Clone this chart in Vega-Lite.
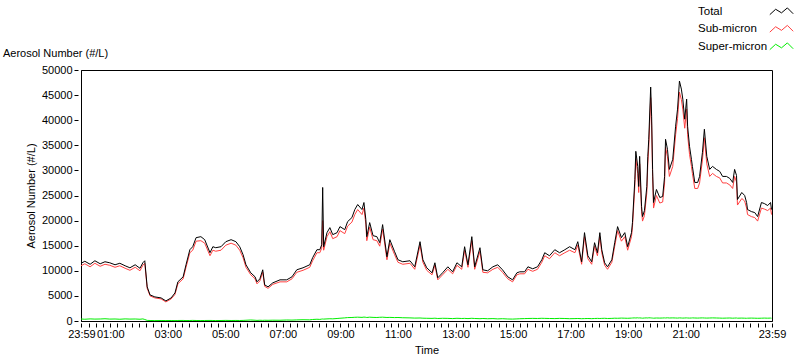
{
"$schema":"https://vega.github.io/schema/vega-lite/v6.json",
"width":691,"height":251,
"autosize":{"type":"none"},
"padding":{"left":81,"top":70,"right":28,"bottom":40},
"background":"white",
"title":{"text":"Aerosol Number (#/L)","anchor":"start","frame":"group","dx":-78,"dy":71,"offset":14,"fontSize":11,"fontWeight":"normal","font":"Liberation Sans","color":"#000"},
"config":{
 "view":{"stroke":"#000","strokeWidth":1},
 "axis":{"labelFont":"Liberation Sans","labelFontSize":11,"labelColor":"#000","titleFont":"Liberation Sans","titleFontSize":11,"titleFontWeight":"normal","titleColor":"#000","grid":false,"domainColor":"#000","tickColor":"#000"},
 "line":{"strokeWidth":1}
},
"data":{"values":[
{"t":"2010-01-01T23:59","Total":11500,"Sub":11000,"Super":400},
{"t":"2010-01-02T00:07","Total":11900,"Sub":11400,"Super":350},
{"t":"2010-01-02T00:18","Total":11300,"Sub":10800,"Super":420},
{"t":"2010-01-02T00:28","Total":12000,"Sub":11500,"Super":380},
{"t":"2010-01-02T00:39","Total":11400,"Sub":10900,"Super":400},
{"t":"2010-01-02T00:49","Total":11800,"Sub":11300,"Super":450},
{"t":"2010-01-02T00:59","Total":11600,"Sub":11100,"Super":380},
{"t":"2010-01-02T01:10","Total":11200,"Sub":10700,"Super":400},
{"t":"2010-01-02T01:20","Total":11500,"Sub":11000,"Super":350},
{"t":"2010-01-02T01:31","Total":11000,"Sub":10500,"Super":420},
{"t":"2010-01-02T01:41","Total":10600,"Sub":10100,"Super":380},
{"t":"2010-01-02T01:52","Total":11200,"Sub":10700,"Super":400},
{"t":"2010-01-02T02:02","Total":10500,"Sub":10000,"Super":350},
{"t":"2010-01-02T02:08","Total":11600,"Sub":11100,"Super":420},
{"t":"2010-01-02T02:12","Total":12000,"Sub":11500,"Super":300},
{"t":"2010-01-02T02:17","Total":6800,"Sub":6500,"Super":120},
{"t":"2010-01-02T02:23","Total":5200,"Sub":5000,"Super":100},
{"t":"2010-01-02T02:33","Total":4800,"Sub":4600,"Super":80},
{"t":"2010-01-02T02:46","Total":4600,"Sub":4400,"Super":100},
{"t":"2010-01-02T02:56","Total":4000,"Sub":3800,"Super":90},
{"t":"2010-01-02T03:07","Total":4600,"Sub":4400,"Super":100},
{"t":"2010-01-02T03:15","Total":5600,"Sub":5300,"Super":80},
{"t":"2010-01-02T03:21","Total":7800,"Sub":7400,"Super":100},
{"t":"2010-01-02T03:32","Total":8800,"Sub":8400,"Super":110},
{"t":"2010-01-02T03:38","Total":11200,"Sub":10700,"Super":90},
{"t":"2010-01-02T03:46","Total":14200,"Sub":13600,"Super":100},
{"t":"2010-01-02T03:52","Total":14800,"Sub":14100,"Super":120},
{"t":"2010-01-02T03:59","Total":16600,"Sub":15900,"Super":100},
{"t":"2010-01-02T04:09","Total":16800,"Sub":16000,"Super":90},
{"t":"2010-01-02T04:17","Total":16200,"Sub":15500,"Super":100},
{"t":"2010-01-02T04:28","Total":13600,"Sub":13000,"Super":110},
{"t":"2010-01-02T04:34","Total":14800,"Sub":14100,"Super":100},
{"t":"2010-01-02T04:40","Total":14600,"Sub":13900,"Super":90},
{"t":"2010-01-02T04:51","Total":14800,"Sub":14100,"Super":100},
{"t":"2010-01-02T05:01","Total":15800,"Sub":15100,"Super":120},
{"t":"2010-01-02T05:12","Total":16200,"Sub":15500,"Super":100},
{"t":"2010-01-02T05:22","Total":15800,"Sub":15100,"Super":110},
{"t":"2010-01-02T05:30","Total":14800,"Sub":14100,"Super":100},
{"t":"2010-01-02T05:37","Total":13200,"Sub":12600,"Super":120},
{"t":"2010-01-02T05:43","Total":11200,"Sub":10700,"Super":150},
{"t":"2010-01-02T05:53","Total":9600,"Sub":9200,"Super":200},
{"t":"2010-01-02T06:02","Total":8800,"Sub":8400,"Super":150},
{"t":"2010-01-02T06:06","Total":7800,"Sub":7400,"Super":120},
{"t":"2010-01-02T06:12","Total":8400,"Sub":8000,"Super":150},
{"t":"2010-01-02T06:18","Total":10200,"Sub":9700,"Super":130},
{"t":"2010-01-02T06:22","Total":7200,"Sub":6900,"Super":150},
{"t":"2010-01-02T06:29","Total":6800,"Sub":6500,"Super":140},
{"t":"2010-01-02T06:39","Total":7600,"Sub":7300,"Super":160},
{"t":"2010-01-02T06:54","Total":8200,"Sub":7800,"Super":150},
{"t":"2010-01-02T07:08","Total":8200,"Sub":7800,"Super":200},
{"t":"2010-01-02T07:19","Total":8800,"Sub":8400,"Super":180},
{"t":"2010-01-02T07:29","Total":10200,"Sub":9700,"Super":220},
{"t":"2010-01-02T07:42","Total":10600,"Sub":10100,"Super":250},
{"t":"2010-01-02T07:56","Total":11200,"Sub":10700,"Super":230},
{"t":"2010-01-02T08:02","Total":12600,"Sub":12000,"Super":300},
{"t":"2010-01-02T08:11","Total":14200,"Sub":13600,"Super":350},
{"t":"2010-01-02T08:17","Total":14200,"Sub":13600,"Super":320},
{"t":"2010-01-02T08:21","Total":15200,"Sub":14500,"Super":380},
{"t":"2010-01-02T08:23","Total":26600,"Sub":20000,"Super":400},
{"t":"2010-01-02T08:25","Total":14800,"Sub":14100,"Super":380},
{"t":"2010-01-02T08:32","Total":17600,"Sub":16800,"Super":420},
{"t":"2010-01-02T08:38","Total":18600,"Sub":17800,"Super":450},
{"t":"2010-01-02T08:44","Total":17200,"Sub":16400,"Super":430},
{"t":"2010-01-02T08:53","Total":17600,"Sub":16800,"Super":500},
{"t":"2010-01-02T08:59","Total":18800,"Sub":18000,"Super":550},
{"t":"2010-01-02T09:09","Total":18200,"Sub":17400,"Super":620},
{"t":"2010-01-02T09:15","Total":19800,"Sub":18900,"Super":680},
{"t":"2010-01-02T09:24","Total":20600,"Sub":19700,"Super":700},
{"t":"2010-01-02T09:30","Total":22200,"Sub":21200,"Super":740},
{"t":"2010-01-02T09:36","Total":23200,"Sub":22200,"Super":760},
{"t":"2010-01-02T09:45","Total":22200,"Sub":21200,"Super":720},
{"t":"2010-01-02T09:49","Total":23600,"Sub":22500,"Super":780},
{"t":"2010-01-02T09:53","Total":20200,"Sub":19300,"Super":740},
{"t":"2010-01-02T09:55","Total":16800,"Sub":16000,"Super":700},
{"t":"2010-01-02T10:01","Total":19600,"Sub":18700,"Super":760},
{"t":"2010-01-02T10:08","Total":17000,"Sub":16200,"Super":720},
{"t":"2010-01-02T10:16","Total":16800,"Sub":16000,"Super":700},
{"t":"2010-01-02T10:22","Total":15600,"Sub":14900,"Super":740},
{"t":"2010-01-02T10:28","Total":19200,"Sub":18300,"Super":760},
{"t":"2010-01-02T10:37","Total":12800,"Sub":12200,"Super":700},
{"t":"2010-01-02T10:43","Total":16200,"Sub":15500,"Super":720},
{"t":"2010-01-02T10:53","Total":13800,"Sub":13200,"Super":680},
{"t":"2010-01-02T11:00","Total":12200,"Sub":11700,"Super":700},
{"t":"2010-01-02T11:10","Total":11800,"Sub":11300,"Super":650},
{"t":"2010-01-02T11:25","Total":12000,"Sub":11500,"Super":620},
{"t":"2010-01-02T11:35","Total":10800,"Sub":10300,"Super":580},
{"t":"2010-01-02T11:46","Total":15800,"Sub":15100,"Super":600},
{"t":"2010-01-02T11:52","Total":12200,"Sub":11700,"Super":560},
{"t":"2010-01-02T12:00","Total":10600,"Sub":10100,"Super":540},
{"t":"2010-01-02T12:11","Total":9600,"Sub":9200,"Super":520},
{"t":"2010-01-02T12:17","Total":11600,"Sub":11100,"Super":560},
{"t":"2010-01-02T12:23","Total":8600,"Sub":8200,"Super":500},
{"t":"2010-01-02T12:33","Total":9600,"Sub":9200,"Super":540},
{"t":"2010-01-02T12:44","Total":10800,"Sub":10300,"Super":520},
{"t":"2010-01-02T12:54","Total":9800,"Sub":9400,"Super":480},
{"t":"2010-01-02T13:03","Total":11600,"Sub":11100,"Super":540},
{"t":"2010-01-02T13:13","Total":10800,"Sub":10300,"Super":500},
{"t":"2010-01-02T13:19","Total":14800,"Sub":14100,"Super":520},
{"t":"2010-01-02T13:26","Total":11200,"Sub":10700,"Super":480},
{"t":"2010-01-02T13:34","Total":16800,"Sub":16000,"Super":540},
{"t":"2010-01-02T13:40","Total":10800,"Sub":10300,"Super":500},
{"t":"2010-01-02T13:51","Total":14600,"Sub":13900,"Super":460},
{"t":"2010-01-02T13:57","Total":10200,"Sub":9700,"Super":500},
{"t":"2010-01-02T14:07","Total":10000,"Sub":9600,"Super":450},
{"t":"2010-01-02T14:18","Total":10800,"Sub":10300,"Super":480},
{"t":"2010-01-02T14:28","Total":11200,"Sub":10700,"Super":420},
{"t":"2010-01-02T14:38","Total":10200,"Sub":9700,"Super":460},
{"t":"2010-01-02T14:49","Total":8800,"Sub":8400,"Super":400},
{"t":"2010-01-02T14:59","Total":8200,"Sub":7800,"Super":380},
{"t":"2010-01-02T15:08","Total":9600,"Sub":9200,"Super":420},
{"t":"2010-01-02T15:14","Total":9800,"Sub":9400,"Super":450},
{"t":"2010-01-02T15:24","Total":9800,"Sub":9400,"Super":480},
{"t":"2010-01-02T15:31","Total":10800,"Sub":10300,"Super":500},
{"t":"2010-01-02T15:41","Total":10400,"Sub":9900,"Super":520},
{"t":"2010-01-02T15:51","Total":10800,"Sub":10300,"Super":500},
{"t":"2010-01-02T16:00","Total":12200,"Sub":11700,"Super":540},
{"t":"2010-01-02T16:06","Total":13600,"Sub":13000,"Super":520},
{"t":"2010-01-02T16:16","Total":13000,"Sub":12400,"Super":500},
{"t":"2010-01-02T16:27","Total":14200,"Sub":13600,"Super":480},
{"t":"2010-01-02T16:37","Total":13600,"Sub":13000,"Super":520},
{"t":"2010-01-02T16:48","Total":14200,"Sub":13600,"Super":500},
{"t":"2010-01-02T16:58","Total":14800,"Sub":14100,"Super":460},
{"t":"2010-01-02T17:09","Total":14200,"Sub":13600,"Super":480},
{"t":"2010-01-02T17:15","Total":15800,"Sub":15100,"Super":500},
{"t":"2010-01-02T17:23","Total":11800,"Sub":11300,"Super":460},
{"t":"2010-01-02T17:29","Total":17600,"Sub":16800,"Super":480},
{"t":"2010-01-02T17:36","Total":13000,"Sub":12400,"Super":500},
{"t":"2010-01-02T17:44","Total":11800,"Sub":11300,"Super":470},
{"t":"2010-01-02T17:50","Total":15600,"Sub":14900,"Super":500},
{"t":"2010-01-02T17:56","Total":13600,"Sub":13000,"Super":520},
{"t":"2010-01-02T18:01","Total":17600,"Sub":16800,"Super":500},
{"t":"2010-01-02T18:05","Total":14200,"Sub":13600,"Super":520},
{"t":"2010-01-02T18:11","Total":11600,"Sub":11100,"Super":540},
{"t":"2010-01-02T18:17","Total":10800,"Sub":10300,"Super":500},
{"t":"2010-01-02T18:26","Total":12200,"Sub":11700,"Super":520},
{"t":"2010-01-02T18:32","Total":15600,"Sub":14900,"Super":560},
{"t":"2010-01-02T18:38","Total":18800,"Sub":18000,"Super":540},
{"t":"2010-01-02T18:46","Total":16600,"Sub":15900,"Super":580},
{"t":"2010-01-02T18:53","Total":17600,"Sub":16800,"Super":560},
{"t":"2010-01-02T18:59","Total":14800,"Sub":14100,"Super":540},
{"t":"2010-01-02T19:07","Total":17600,"Sub":16800,"Super":580},
{"t":"2010-01-02T19:09","Total":19600,"Sub":18700,"Super":600},
{"t":"2010-01-02T19:14","Total":28200,"Sub":26900,"Super":620},
{"t":"2010-01-02T19:16","Total":33800,"Sub":32300,"Super":600},
{"t":"2010-01-02T19:20","Total":30800,"Sub":29400,"Super":640},
{"t":"2010-01-02T19:22","Total":26800,"Sub":25600,"Super":600},
{"t":"2010-01-02T19:24","Total":32800,"Sub":31300,"Super":620},
{"t":"2010-01-02T19:28","Total":22800,"Sub":21800,"Super":580},
{"t":"2010-01-02T19:30","Total":20800,"Sub":19900,"Super":560},
{"t":"2010-01-02T19:34","Total":22000,"Sub":21000,"Super":600},
{"t":"2010-01-02T19:39","Total":26800,"Sub":25600,"Super":620},
{"t":"2010-01-02T19:41","Total":32800,"Sub":31300,"Super":600},
{"t":"2010-01-02T19:43","Total":36200,"Sub":34600,"Super":640},
{"t":"2010-01-02T19:47","Total":46600,"Sub":44500,"Super":620},
{"t":"2010-01-02T19:49","Total":40800,"Sub":39000,"Super":600},
{"t":"2010-01-02T19:51","Total":30200,"Sub":28800,"Super":580},
{"t":"2010-01-02T19:53","Total":23600,"Sub":22500,"Super":560},
{"t":"2010-01-02T19:59","Total":26200,"Sub":25000,"Super":600},
{"t":"2010-01-02T20:06","Total":24600,"Sub":23500,"Super":580},
{"t":"2010-01-02T20:12","Total":24800,"Sub":23700,"Super":600},
{"t":"2010-01-02T20:16","Total":28800,"Sub":27500,"Super":620},
{"t":"2010-01-02T20:18","Total":36200,"Sub":34600,"Super":600},
{"t":"2010-01-02T20:22","Total":34200,"Sub":32700,"Super":640},
{"t":"2010-01-02T20:26","Total":30200,"Sub":28800,"Super":600},
{"t":"2010-01-02T20:33","Total":32200,"Sub":30800,"Super":620},
{"t":"2010-01-02T20:39","Total":38800,"Sub":37100,"Super":600},
{"t":"2010-01-02T20:43","Total":42200,"Sub":40300,"Super":580},
{"t":"2010-01-02T20:47","Total":47800,"Sub":45600,"Super":620},
{"t":"2010-01-02T20:51","Total":46200,"Sub":44100,"Super":600},
{"t":"2010-01-02T20:54","Total":44200,"Sub":42200,"Super":580},
{"t":"2010-01-02T20:58","Total":40200,"Sub":38400,"Super":600},
{"t":"2010-01-02T21:02","Total":44200,"Sub":42200,"Super":620},
{"t":"2010-01-02T21:04","Total":38800,"Sub":37100,"Super":600},
{"t":"2010-01-02T21:08","Total":34800,"Sub":33200,"Super":580},
{"t":"2010-01-02T21:12","Total":32200,"Sub":30800,"Super":600},
{"t":"2010-01-02T21:14","Total":30800,"Sub":29400,"Super":620},
{"t":"2010-01-02T21:19","Total":27600,"Sub":26400,"Super":600},
{"t":"2010-01-02T21:25","Total":27600,"Sub":26400,"Super":580},
{"t":"2010-01-02T21:29","Total":28800,"Sub":27500,"Super":600},
{"t":"2010-01-02T21:35","Total":33600,"Sub":32100,"Super":620},
{"t":"2010-01-02T21:39","Total":38200,"Sub":36500,"Super":600},
{"t":"2010-01-02T21:44","Total":32800,"Sub":31300,"Super":580},
{"t":"2010-01-02T21:50","Total":30200,"Sub":28800,"Super":600},
{"t":"2010-01-02T21:56","Total":30800,"Sub":29400,"Super":620},
{"t":"2010-01-02T22:04","Total":30200,"Sub":28800,"Super":600},
{"t":"2010-01-02T22:11","Total":29800,"Sub":28500,"Super":580},
{"t":"2010-01-02T22:17","Total":28800,"Sub":27500,"Super":560},
{"t":"2010-01-02T22:25","Total":28800,"Sub":27500,"Super":580},
{"t":"2010-01-02T22:32","Total":28400,"Sub":27100,"Super":600},
{"t":"2010-01-02T22:38","Total":27600,"Sub":26400,"Super":560},
{"t":"2010-01-02T22:42","Total":30200,"Sub":28800,"Super":580},
{"t":"2010-01-02T22:46","Total":29000,"Sub":27700,"Super":600},
{"t":"2010-01-02T22:48","Total":24200,"Sub":23100,"Super":560},
{"t":"2010-01-02T22:57","Total":25600,"Sub":24400,"Super":580},
{"t":"2010-01-02T23:03","Total":25000,"Sub":23900,"Super":560},
{"t":"2010-01-02T23:07","Total":23600,"Sub":22500,"Super":540},
{"t":"2010-01-02T23:09","Total":22200,"Sub":21200,"Super":560},
{"t":"2010-01-02T23:17","Total":21800,"Sub":20800,"Super":580},
{"t":"2010-01-02T23:24","Total":21600,"Sub":20600,"Super":560},
{"t":"2010-01-02T23:30","Total":20800,"Sub":19900,"Super":540},
{"t":"2010-01-02T23:38","Total":23600,"Sub":22500,"Super":560},
{"t":"2010-01-02T23:44","Total":23400,"Sub":22300,"Super":580},
{"t":"2010-01-02T23:51","Total":23000,"Sub":22000,"Super":560},
{"t":"2010-01-02T23:57","Total":23600,"Sub":22500,"Super":580},
{"t":"2010-01-02T23:59","Total":22200,"Sub":21200,"Super":560}
]},
"transform":[{"fold":["Sub","Total","Super"],"as":["key","value"]}],
"encoding":{
 "x":{"field":"t","type":"temporal",
  "scale":{"domain":["2010-01-01T23:59","2010-01-03T00:00"]},
  "axis":{"tickCount":96,
   "labelExpr":"minutes(datum.value) == 0 && hours(datum.value) == 0 ? '23:59' : (minutes(datum.value) == 0 && hours(datum.value) % 2 == 1 && hours(datum.value) < 23 ? timeFormat(datum.value, '%H:%M') : '')",
   "labelOverlap":false,"labelFlush":false,"tickSize":6,"tickDash":[0,2,4],"labelPadding":1,"title":"Time","titlePadding":5}},
 "y":{"field":"value","type":"quantitative","scale":{"domain":[0,50000],"nice":false},
  "axis":{"title":"Aerosol Number (#/L)","values":[0,5000,10000,15000,20000,25000,30000,35000,40000,45000,50000],"format":"d","tickSize":7,"tickDash":[0,3,4],"labelPadding":2,"titlePadding":5,"labelOverlap":false}},
 "color":{"field":"key","type":"nominal",
  "scale":{"domain":["Total","Sub","Super"],"range":["#000000","#ff4040","#00ee00"]},
  "legend":{"orient":"none","legendX":691,"legendY":-68,"title":null,"padding":0,
   "labelExpr":"datum.label == 'Sub' ? 'Sub-micron' : datum.label == 'Super' ? 'Super-micron' : datum.label",
   "symbolType":"M-1.3,0.35L-0.65,-0.25L0,0.15L0.65,-0.4L1.3,0.25","symbolSize":324,"symbolStrokeWidth":1,
   "labelAlign":"left","labelOffset":-93,"labelFont":"Liberation Sans","labelFontSize":11.5,"labelColor":"#000","rowPadding":2.5}}
},
"layer":[
 {"transform":[{"filter":"datum.key == 'Sub'"}],"mark":{"type":"line","strokeWidth":1}},
 {"transform":[{"filter":"datum.key == 'Total'"}],"mark":{"type":"line","strokeWidth":1}},
 {"transform":[{"filter":"datum.key == 'Super'"}],"mark":{"type":"line","strokeWidth":1}}
]
}
